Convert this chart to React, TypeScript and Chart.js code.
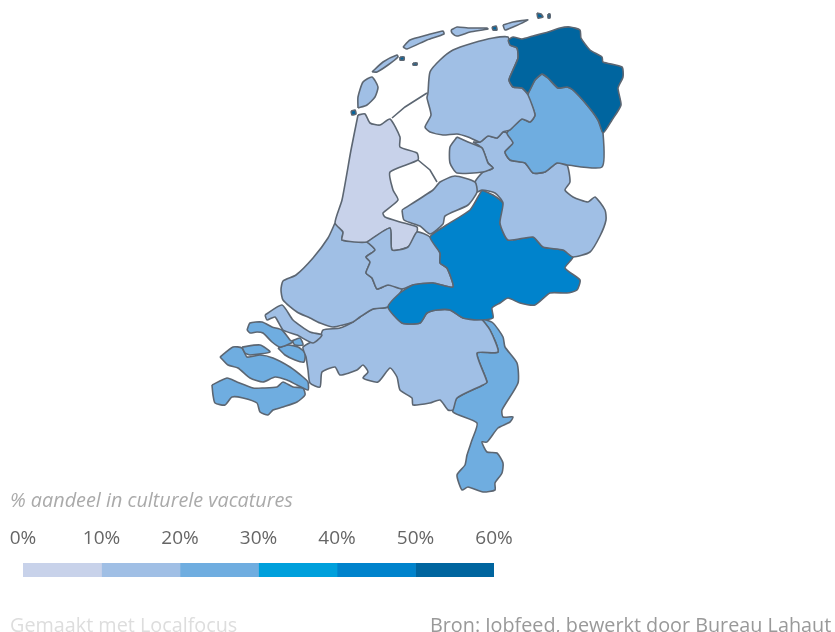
import React, { useEffect, useRef } from "react";
import { Chart, registerables } from "chart.js";

Chart.register(...registerables);

type P = [number, number];

// Map outlines, in map units
const groningen: P[] = [[508,40],[513,37],[522,39],[533,36],[548,32],[560,28],[570,27],[580,30],[581,38],[590,50],[602,57],[603,62],[622,67],[623,77],[618,88],[621,105],[612,120],[603,133],[598,120],[587,105],[573,90],[567,87],[558,88],[548,78],[542,74],[535,80],[528,93],[522,88],[513,87],[509,80],[513,70],[518,58],[517,48],[510,45]];
const friesland: P[] = [[428,93],[430,72],[440,60],[453,50],[473,43],[493,38],[508,37],[510,45],[517,48],[518,58],[513,70],[509,80],[513,87],[522,88],[528,95],[535,115],[530,122],[522,119],[510,130],[503,132],[497,138],[488,136],[480,142],[468,137],[457,134],[443,135],[430,132],[425,127],[431,115],[427,98]];
const drenthe: P[] = [[542,74],[548,78],[558,88],[567,87],[573,90],[587,105],[598,120],[603,133],[602,167],[567,165],[557,163],[545,172],[533,173],[525,163],[510,160],[505,152],[513,143],[507,133],[522,119],[530,122],[535,115],[528,95],[535,80]];
const noordoostpolder: P[] = [[457,137],[468,142],[482,148],[488,163],[493,168],[483,172],[457,173],[450,163],[450,147]];
const flevoland: P[] = [[402,210],[433,190],[440,182],[455,176],[475,182],[477,192],[468,205],[445,216],[443,224],[430,234],[420,226],[404,220]];
const overijssel: P[] = [[473,142],[480,142],[488,136],[497,138],[503,132],[507,133],[513,143],[505,152],[510,160],[525,163],[533,173],[545,172],[557,163],[567,165],[570,182],[565,190],[573,197],[588,202],[595,197],[605,210],[606,220],[600,236],[590,252],[573,257],[563,250],[543,247],[533,237],[508,240],[500,223],[503,203],[495,193],[482,190],[477,192],[475,182],[483,172],[493,168],[488,163],[482,148]];
const gelderland: P[] = [[482,190],[493,195],[503,203],[505,213],[500,223],[508,240],[533,237],[543,247],[563,250],[573,257],[565,268],[580,280],[577,290],[567,293],[550,293],[535,305],[520,303],[508,298],[500,303],[492,308],[493,318],[477,320],[463,318],[450,310],[437,310],[427,313],[420,323],[402,323],[388,307],[400,293],[413,285],[433,283],[453,287],[447,268],[440,263],[440,253],[430,237],[445,226],[470,210],[478,197]];
const utrecht: P[] = [[367,242],[390,228],[392,250],[408,247],[417,232],[430,237],[440,253],[440,263],[447,268],[453,287],[433,283],[413,285],[402,289],[388,285],[377,289],[372,278],[366,273],[370,262],[366,257],[375,250]];
const noordHolland: P[] = [[358,115],[365,114],[370,123],[380,125],[390,119],[400,137],[400,147],[417,153],[418,160],[390,172],[393,190],[398,200],[383,213],[385,217],[400,222],[417,227],[417,232],[408,247],[392,250],[390,228],[367,242],[342,240],[343,232],[335,223],[342,200],[351,150]];
const zuidHolland: P[] = [[335,223],[343,232],[342,240],[367,242],[375,250],[366,257],[370,262],[366,273],[372,278],[377,289],[388,285],[402,289],[388,307],[373,309],[360,317],[353,322],[333,327],[320,323],[310,318],[297,312],[283,300],[281,290],[283,281],[296,275],[313,258],[328,238]];
const goeree: P[] = [[265,315],[282,305],[293,320],[310,332],[322,335],[313,343],[297,335],[283,330],[275,317],[267,320]];
const noordBrabant: P[] = [[388,307],[373,309],[360,317],[353,322],[340,328],[323,330],[320,337],[303,347],[306,357],[308,370],[310,383],[320,387],[322,372],[335,367],[340,375],[357,370],[363,365],[368,372],[363,378],[378,382],[390,368],[397,377],[400,390],[412,398],[413,405],[430,403],[440,400],[448,410],[453,410],[457,398],[483,385],[487,382],[477,353],[498,352],[490,330],[480,318],[463,318],[450,310],[437,310],[427,313],[420,323],[402,323]];
const limburg: P[] = [[480,318],[493,323],[503,337],[505,347],[517,363],[518,383],[502,410],[503,417],[513,417],[510,422],[498,428],[487,442],[482,442],[487,452],[497,453],[503,463],[502,473],[495,483],[495,490],[483,492],[468,487],[462,490],[457,475],[465,465],[467,455],[472,440],[477,423],[453,412],[457,398],[483,385],[487,382],[477,353],[498,352],[490,330]];
const schouwen: P[] = [[247,330],[250,323],[262,322],[272,327],[282,330],[290,340],[293,342],[280,347],[272,342],[263,333],[257,332],[250,333]];
const tholen: P[] = [[278,348],[288,345],[298,347],[305,353],[304,362],[295,360],[285,355]];
const sintPhilipsland: P[] = [[292,341],[300,338],[303,345],[295,345]];
const noordBeveland: P[] = [[242,347],[260,345],[270,352],[250,355],[245,353]];
const walcheren: P[] = [[220,357],[233,347],[242,348],[247,357],[260,355],[273,358],[290,367],[303,377],[308,382],[308,390],[297,385],[287,380],[275,377],[263,382],[250,378],[238,368],[228,365]];
const zeeuwsVlaanderen: P[] = [[212,385],[227,378],[237,382],[253,388],[263,388],[277,387],[283,382],[293,387],[303,388],[305,395],[297,402],[283,407],[273,410],[268,415],[260,412],[257,403],[243,398],[232,397],[225,405],[215,403],[213,395]];
const texel: P[] = [[358,108],[358,97],[363,82],[372,77],[378,87],[375,97],[367,105]];
const vlieland: P[] = [[372,72],[383,62],[397,55],[398,57],[388,65],[377,72]];
const terschelling: P[] = [[403,47],[410,40],[427,35],[443,31],[444,34],[427,40],[407,49]];
const ameland: P[] = [[451,30],[457,27],[468,28],[487,28],[488,29],[470,32],[457,36],[452,33]];
const schiermonnikoog: P[] = [[503,25],[513,22],[528,20],[513,27],[505,30]];
const rottumeroog: P[] = [[537,13],[541,14],[543,17],[538,18]];
const rottumerplaat: P[] = [[548,14],[550,14],[550,18],[548,18]];
const engelsmanplaat: P[] = [[492,27],[496,26],[497,30],[493,30]];
const griend: P[] = [[400,57],[404,57],[404,60],[400,60]];
const richel: P[] = [[413,63],[417,63],[417,65],[413,65]];
const noorderhaaks: P[] = [[351,111],[355,110],[356,114],[352,115]];
const afsluitdijk: P[] = [[427,93],[405,107],[392,118]];
const markerdijk: P[] = [[418,160],[430,170],[437,182]];

// Share of cultural vacancies per region, %
const regionNames = ["Groningen","Friesland","Drenthe","Noordoostpolder","Flevoland","Overijssel","Gelderland","Utrecht","Noord-Holland","Zuid-Holland","Goeree","Noord-Brabant","Limburg","Schouwen","Tholen","Sint Philipsland","Noord-Beveland","Walcheren","Zeeuws-Vlaanderen","Texel","Vlieland","Terschelling","Ameland","Schiermonnikoog","Rottumeroog","Rottumerplaat","Engelsmanplaat","Griend","Richel","Noorderhaaks"];
const regionShares = [55,15,25,15,15,15,45,15,6,15,15,15,25,25,25,25,25,25,25,15,15,15,15,15,55,55,55,55,55,55];
const regionShapes = [groningen,friesland,drenthe,noordoostpolder,flevoland,overijssel,gelderland,utrecht,noordHolland,zuidHolland,goeree,noordBrabant,limburg,schouwen,tholen,sintPhilipsland,noordBeveland,walcheren,zeeuwsVlaanderen,texel,vlieland,terschelling,ameland,schiermonnikoog,rottumeroog,rottumerplaat,engelsmanplaat,griend,richel,noorderhaaks];

// Legend
const binWidths = [10,10,10,10,10,10];
const binColors = ["#c8d2ea","#a0bfe5","#6fade0","#00a0dc","#0083cc","#00659f"];
const legendTicks = [0,10,20,30,40,50,60];
const legendTitle = "% aandeel in culturele vacatures";
const madeWith = "Gemaakt met Localfocus";
const source = "Bron: Jobfeed, bewerkt door Bureau Lahaut";

const FONT = '"Open Sans", sans-serif';
const STROKE = "#5c6672";

const colorFor = (v: number) => binColors[Math.min(5, Math.floor(v / 10))];
const toPts = (s: P[]) => [...s, s[0]].map(([x, y]) => ({ x, y }));

export default function App() {
  const mapRef = useRef<HTMLCanvasElement>(null);
  const barRef = useRef<HTMLCanvasElement>(null);

  useEffect(() => {
    const regionSets: any[] = regionShapes.map((s, i) => ({
      type: "line",
      label: regionNames[i],
      data: toPts(s),
      backgroundColor: colorFor(regionShares[i]),
      borderColor: STROKE,
      borderWidth: 1.6,
      borderJoinStyle: "round",
      fill: "shape",
      pointRadius: 0,
      tension: 0.2,
    }));
    const lineSets: any[] = [afsluitdijk, markerdijk].map((s, i) => ({
      type: "line",
      label: i === 0 ? "Afsluitdijk" : "Markerdijk",
      data: s.map(([x, y]) => ({ x, y })),
      borderColor: STROKE,
      borderWidth: 1.6,
      fill: false,
      pointRadius: 0,
      tension: 0,
    }));
    const map = new Chart(mapRef.current!, {
      type: "scatter",
      data: { datasets: [...regionSets, ...lineSets] },
      options: {
        animation: false,
        responsive: false,
        layout: { padding: 0 },
        plugins: { legend: { display: false }, tooltip: { enabled: false } },
        scales: {
          x: { type: "linear", min: 0, max: 835, display: false },
          y: { type: "linear", min: 0, max: 632, reverse: true, display: false },
        },
      },
    } as any);

    const bar = new Chart(barRef.current!, {
      type: "bar",
      data: {
        labels: ["aandeel"],
        datasets: binWidths.map((w, i) => ({
          label: `${legendTicks[i]}%`,
          data: [w],
          backgroundColor: binColors[i],
          borderWidth: 0,
          barPercentage: 1,
          categoryPercentage: 1,
          stack: "s",
        })),
      },
      options: {
        indexAxis: "y",
        animation: false,
        responsive: false,
        layout: { padding: { left: 23, right: 341, top: 0, bottom: 0 } },
        plugins: { legend: { display: false }, tooltip: { enabled: false } },
        scales: {
          x: {
            type: "linear",
            position: "top",
            stacked: true,
            min: 0,
            max: 60,
            grid: { display: false, drawTicks: false },
            border: { display: false },
            afterBuildTicks: (ax: any) => {
              ax.ticks = legendTicks.map((value) => ({ value }));
            },
            afterFit: (ax: any) => {
              ax.height = 36;
              ax.paddingLeft = 0;
              ax.paddingRight = 0;
            },
            ticks: {
              padding: 13,
              maxRotation: 0,
              autoSkip: false,
              color: "#666666",
              font: { family: FONT, size: 19 },
              callback: (v: any) => `${v}%`,
            },
          },
          y: { stacked: true, display: false },
        },
      },
    } as any);

    return () => {
      map.destroy();
      bar.destroy();
    };
  }, []);

  const text = (s: string, st: React.CSSProperties) => (
    <div style={{ position: "absolute", whiteSpace: "nowrap", fontFamily: FONT, lineHeight: 1, ...st }}>{s}</div>
  );

  return (
    <div style={{ position: "absolute", left: 0, top: 0, width: 835, height: 632, overflow: "hidden", background: "#fff", filter: "blur(0.4px)" }}>
      <canvas ref={mapRef} width={835} height={632} style={{ position: "absolute", left: 0, top: 0 }} />
      <canvas ref={barRef} width={835} height={50} style={{ position: "absolute", left: 0, top: 527 }} />
      {text(legendTitle, { left: 10, top: 490, fontSize: 19.8, fontStyle: "italic", color: "#aaaaaa" })}
      {text(madeWith, { left: 10, top: 615, fontSize: 19.8, color: "#dddddd" })}
      {text(source, { left: 430, top: 615, fontSize: 19.8, color: "#999999" })}
    </div>
  );
}
